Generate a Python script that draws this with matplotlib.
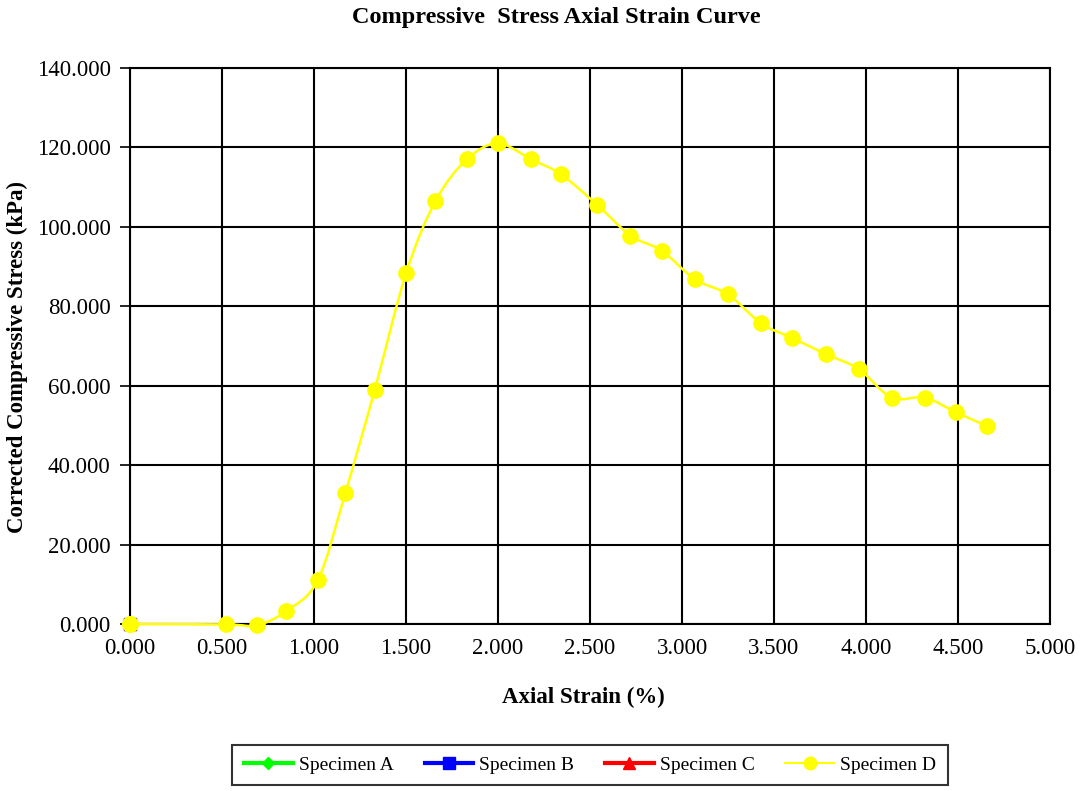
import numpy as np
import matplotlib
matplotlib.use("Agg")
import matplotlib.pyplot as plt
from matplotlib.path import Path
from matplotlib.patches import PathPatch
from matplotlib.lines import Line2D

plt.rcParams['font.family'] = ['Liberation Serif', 'DejaVu Serif']

# specimen A, B, C only have the zero reading
strain_a = [0.0]
stress_a = [0.0]
strain_b = [0.0]
stress_b = [0.0]
strain_c = [0.0]
stress_c = [0.0]

# specimen D readings
strain_d = [0.0, 0.52, 0.69, 0.85, 1.02, 1.17, 1.33, 1.50, 1.66, 1.83, 2.00,
            2.18, 2.34, 2.54, 2.72, 2.89, 3.07, 3.25, 3.43, 3.60, 3.78, 3.96,
            4.14, 4.32, 4.49, 4.66]
stress_d = [0.0, -0.1, -0.3, 3.3, 11.0, 33.0, 59.0, 88.3, 106.5, 117.0, 121.0,
            117.0, 113.3, 105.5, 97.8, 94.0, 86.8, 83.0, 75.7, 72.0, 68.0, 64.2,
            57.0, 57.0, 53.3, 49.8]

x_ticks = np.arange(0, 5.01, 0.5)
y_ticks = np.arange(0, 140.1, 20)


def smooth_path(xs, ys, tension=0.5):
    # Catmull-Rom segments written as cubic Bezier pieces
    x = np.asarray(xs, float)
    y = np.asarray(ys, float)
    verts = [(x[0], y[0])]
    codes = [Path.MOVETO]
    n = len(x)
    for i in range(n - 1):
        p0 = (x[max(i - 1, 0)], y[max(i - 1, 0)])
        p1 = (x[i], y[i])
        p2 = (x[i + 1], y[i + 1])
        p3 = (x[min(i + 2, n - 1)], y[min(i + 2, n - 1)])
        c1 = (p1[0] + (p2[0] - p0[0]) * tension / 3, p1[1] + (p2[1] - p0[1]) * tension / 3)
        c2 = (p2[0] - (p3[0] - p1[0]) * tension / 3, p2[1] - (p3[1] - p1[1]) * tension / 3)
        verts += [c1, c2, p2]
        codes += [Path.CURVE4] * 3
    return Path(verts, codes)


fig = plt.figure(figsize=(10.81, 7.91), dpi=100)
ax = fig.add_axes([0.1203, 0.2111, 0.8510, 0.7029])

ax.set_xlim(0, 5)
ax.set_ylim(0, 140)
ax.set_xticks(x_ticks)
ax.set_yticks(y_ticks)
ax.set_xticklabels([f"{v:.3f}" for v in x_ticks])
ax.set_yticklabels([f"{v:.3f}" for v in y_ticks])
ax.grid(True, color='black', linewidth=1.5)
ax.set_axisbelow(True)
for s in ax.spines.values():
    s.set_linewidth(1.5)
ax.tick_params(axis='y', labelsize=16.5, length=7, width=1.2, pad=7)
ax.tick_params(axis='x', labelsize=16.5, length=0, pad=10)

ax.add_patch(PathPatch(smooth_path(strain_d, stress_d), facecolor='none',
                       edgecolor='#FFFF00', linewidth=1.8, zorder=3, clip_on=False))
ax.plot(strain_d, stress_d, linestyle='none', marker='o', markersize=11,
        color='#FFFF00', zorder=4, clip_on=False)
ax.plot(strain_c, stress_c, color='red', marker='^', markersize=9, clip_on=False, zorder=3)
ax.plot(strain_b, stress_b, color='blue', marker='s', markersize=9, clip_on=False, zorder=3)
ax.plot(strain_a, stress_a, color='#00FF00', marker='D', markersize=6, clip_on=False, zorder=3)
ax.plot(strain_d[:1], stress_d[:1], linestyle='none', marker='o', markersize=11,
        color='#FFFF00', zorder=5, clip_on=False)

fig.text(0.5143, 1 - 17 / 791, "Compressive  Stress Axial Strain Curve", fontsize=17.5,
         fontweight='bold', ha='center', va='center')
fig.text(0.540, 1 - 697 / 791, "Axial Strain (%)", fontsize=16.5, fontweight='bold',
         ha='center', va='center')
fig.text(17 / 1081, 0.549, "Corrected Compressive Stress (kPa)", fontsize=16.5,
         fontweight='bold', ha='center', va='center', rotation=90)

handles = [
    Line2D([], [], color='#00FF00', lw=3, marker='D', markersize=6),
    Line2D([], [], color='blue', lw=3, marker='s', markersize=8),
    Line2D([], [], color='red', lw=3, marker='^', markersize=8),
    Line2D([], [], color='#FFFF00', lw=1.5, marker='o', markersize=9),
]
leg = fig.legend(handles, ["Specimen A", "Specimen B", "Specimen C", "Specimen D"],
                 loc='center', bbox_to_anchor=(590 / 1081, 1 - 765 / 791), ncol=4,
                 fontsize=14, frameon=True, fancybox=False, edgecolor='black',
                 handlelength=2.5, handletextpad=0.3, columnspacing=1.6,
                 borderpad=0.6, borderaxespad=0)
leg.get_frame().set_linewidth(1.5)

fig.savefig("out.png", dpi=100)
